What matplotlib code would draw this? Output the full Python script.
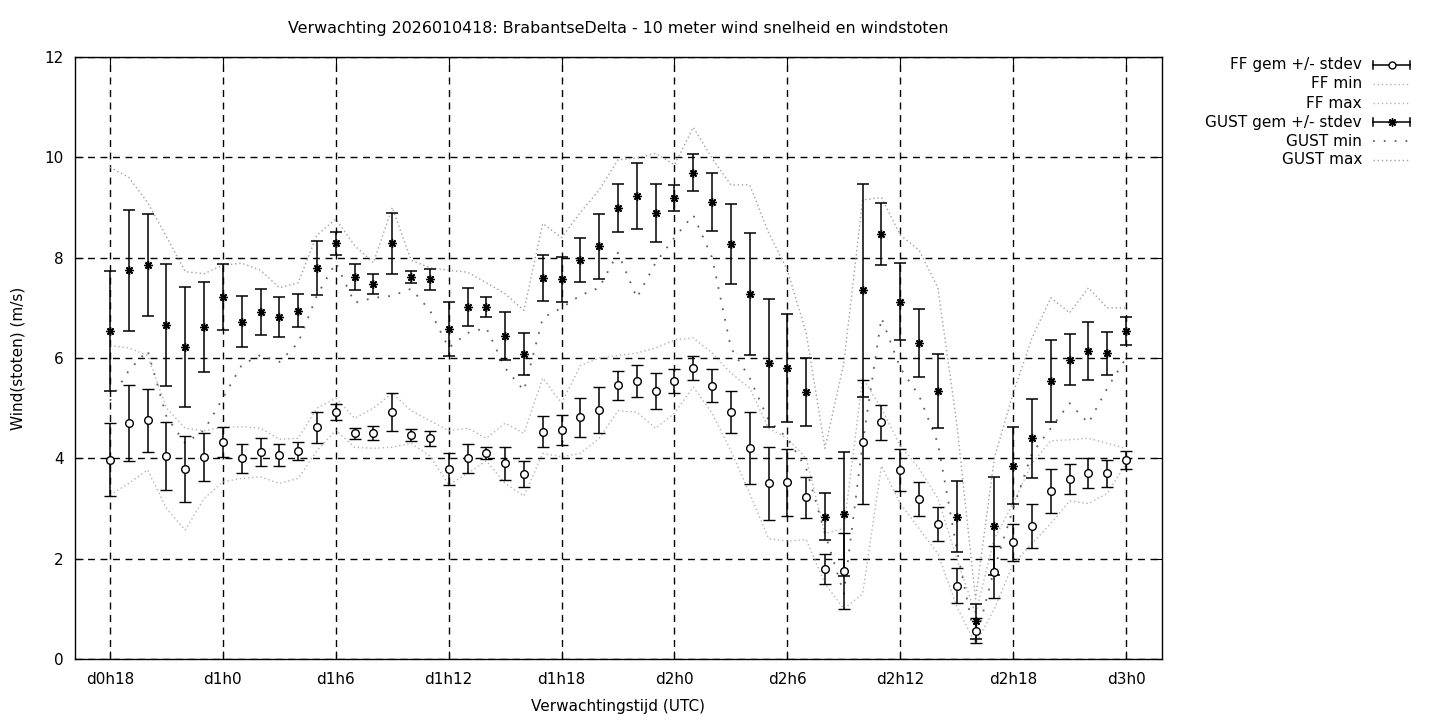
# windverwachting BrabantseDelta: gemiddelde +/- stdev, min en max
import numpy as np
import matplotlib.pyplot as plt
from matplotlib.lines import Line2D

# uren vanaf d0h0 (d0h18 .. d3h0)
uren = np.arange(18, 73)

ff_gem = [3.97, 4.70, 4.76, 4.05, 3.79, 4.03, 4.33, 4.00, 4.12, 4.06, 4.15, 4.62, 4.92,
          4.50, 4.50, 4.92, 4.46, 4.40, 3.79, 4.00, 4.10, 3.90, 3.68, 4.53, 4.56, 4.82, 4.96, 5.46,
          5.54, 5.34, 5.54, 5.80, 5.45, 4.93, 4.20, 3.50, 3.52, 3.22, 1.79, 1.75, 4.32, 4.72,
          3.77, 3.19, 2.69, 1.46, 0.56, 1.73, 2.33, 2.65, 3.35, 3.58, 3.70, 3.70, 3.97]
ff_std = [0.73, 0.76, 0.63, 0.68, 0.66, 0.48, 0.30, 0.29, 0.28, 0.22, 0.18, 0.31, 0.16,
          0.11, 0.14, 0.38, 0.12, 0.15, 0.32, 0.29, 0.12, 0.33, 0.26, 0.31, 0.30, 0.39, 0.46, 0.29,
          0.32, 0.36, 0.24, 0.24, 0.33, 0.42, 0.72, 0.73, 0.67, 0.41, 0.30, 0.76, 1.24, 0.35,
          0.42, 0.34, 0.34, 0.35, 0.25, 0.52, 0.37, 0.44, 0.44, 0.30, 0.30, 0.27, 0.18]
ff_min = [3.27, 3.50, 3.77, 3.00, 2.57, 3.20, 3.53, 3.60, 3.63, 3.50, 3.60, 4.15, 4.56,
          4.22, 4.20, 4.22, 4.30, 4.05, 3.47, 3.70, 3.95, 3.50, 3.25, 4.10, 4.03, 4.10, 4.40, 4.95,
          4.92, 4.60, 4.90, 5.42, 4.90, 4.15, 3.30, 2.40, 2.35, 2.38, 1.50, 1.00, 1.30, 3.85,
          3.10, 2.60, 2.10, 1.05, 0.30, 1.00, 1.90, 2.30, 2.70, 3.15, 3.10, 3.30, 3.90]
ff_max = [6.25, 6.20, 6.05, 5.00, 4.60, 4.55, 4.62, 4.63, 4.60, 4.38, 4.40, 5.00, 5.20,
          4.80, 5.00, 5.30, 4.95, 4.75, 4.55, 4.60, 4.40, 4.70, 4.50, 5.60, 5.10, 5.85, 6.00, 6.05,
          6.10, 6.20, 6.36, 6.40, 6.10, 5.70, 5.40, 4.60, 4.40, 4.00, 2.50, 2.60, 5.60, 5.00,
          4.25, 3.80, 3.20, 2.00, 0.90, 2.40, 3.10, 3.90, 4.35, 4.37, 4.40, 4.30, 4.20]

gust_gem = [6.54, 7.75, 7.85, 6.66, 6.22, 6.62, 7.22, 6.72, 6.92, 6.82, 6.94, 7.79, 8.29,
            7.61, 7.47, 8.29, 7.61, 7.57, 6.58, 7.02, 7.02, 6.44, 6.08, 7.59, 7.57, 7.95, 8.23, 8.99,
            9.23, 8.89, 9.19, 9.69, 9.11, 8.27, 7.27, 5.90, 5.80, 5.32, 2.84, 2.89, 7.35, 8.47,
            7.12, 6.30, 5.34, 2.84, 0.75, 2.65, 3.85, 4.40, 5.54, 5.97, 6.14, 6.09, 6.53]
gust_std = [1.20, 1.21, 1.02, 1.22, 1.20, 0.90, 0.66, 0.51, 0.46, 0.40, 0.33, 0.54, 0.23,
            0.26, 0.20, 0.61, 0.12, 0.21, 0.54, 0.38, 0.20, 0.47, 0.41, 0.46, 0.45, 0.44, 0.65, 0.47,
            0.65, 0.58, 0.26, 0.37, 0.58, 0.79, 1.22, 1.28, 1.08, 0.68, 0.47, 1.24, 2.12, 0.61,
            0.77, 0.68, 0.73, 0.71, 0.35, 0.97, 0.77, 0.79, 0.81, 0.50, 0.57, 0.43, 0.28]
gust_min = [5.15, 5.75, 6.15, 4.83, 4.30, 4.56, 5.20, 5.86, 6.06, 5.92, 6.30, 7.25, 7.90,
            7.10, 7.20, 7.24, 7.38, 6.95, 6.20, 6.50, 6.60, 5.80, 5.35, 6.80, 7.00, 7.25, 7.40, 8.10,
            7.20, 7.90, 8.40, 8.85, 8.00, 6.20, 5.60, 4.76, 4.40, 3.80, 2.50, 1.30, 4.30, 6.80,
            5.80, 5.25, 4.30, 2.20, 0.35, 1.80, 3.00, 4.10, 4.60, 5.10, 4.70, 5.40, 6.00]
gust_max = [9.80, 9.60, 9.10, 8.42, 7.72, 7.68, 7.85, 7.89, 7.75, 7.40, 7.50, 8.45, 8.77,
            8.24, 7.90, 9.00, 7.95, 7.80, 7.75, 7.71, 7.50, 7.28, 6.95, 8.68, 8.40, 8.90, 9.35, 9.95,
            9.99, 10.08, 9.85, 10.60, 9.98, 9.45, 9.45, 8.50, 7.75, 6.50, 4.20, 5.90, 9.15, 9.20,
            8.45, 8.15, 7.40, 4.70, 1.20, 4.00, 5.30, 6.40, 7.20, 6.90, 7.40, 7.00, 7.00]

tick_uren = np.arange(18, 73, 6)
tick_labels = ['d0h18', 'd1h0', 'd1h6', 'd1h12', 'd1h18', 'd2h0', 'd2h6', 'd2h12', 'd2h18', 'd3h0']

titel = 'Verwachting 2026010418: BrabantseDelta - 10 meter wind snelheid en windstoten'

W, H = 1440, 720
fig = plt.figure(figsize=(14.4, 7.2), dpi=100)
ax = fig.add_axes([75/W, (H-659)/H, (1162-75)/W, (659-57)/H])

ster = (8, 2, 0)
stijl_ff = dict(color='#b4b4b4', lw=1.0, ls=(0, (1, 2)))
stijl_gmin = dict(color='#606060', lw=1.3, ls=(0, (1, 5)))
stijl_gmax = dict(color='#a0a0a0', lw=1.0, ls=(0, (1, 2)))

ax.errorbar(uren, ff_gem, yerr=ff_std, fmt='o', ms=5.5, mfc='white', mec='black',
            mew=1.0, ecolor='black', elinewidth=1.1, capsize=4, capthick=1.1, zorder=4)
ax.plot(uren, ff_min, **stijl_ff)
ax.plot(uren, ff_max, **stijl_ff)
ax.errorbar(uren, gust_gem, yerr=gust_std, fmt='none', ecolor='black',
            elinewidth=1.1, capsize=4, capthick=1.1, zorder=4)
ax.plot(uren, gust_gem, ls='none', marker=ster, ms=6, mec='black', mew=1.0, zorder=5)
ax.plot(uren, gust_min, **stijl_gmin)
ax.plot(uren, gust_max, **stijl_gmax)

ax.set_xlim(16.14, 73.91)
ax.set_ylim(0, 12)
ax.set_xticks(tick_uren)
ax.set_xticklabels(tick_labels)
ax.set_yticks(np.arange(0, 13, 2))
ax.tick_params(direction='in', top=True, right=True, length=6, labelsize=11)
ax.tick_params(axis='x', pad=9)
ax.tick_params(axis='y', pad=8)
ax.grid(True, color='black', ls=(0, (5, 4)), lw=1.0)
ax.set_axisbelow(True)
for s in ax.spines.values():
    s.set_linewidth(1.0)

fig.text(618/W, 1-29/H, titel, ha='center', va='center', fontsize=11.4)
fig.text(618/W, 1-707/H, 'Verwachtingstijd (UTC)', ha='center', va='center', fontsize=11)
fig.text(18/W, 1-358/H, 'Wind(stoten) (m/s)', ha='center', va='center', rotation=90, fontsize=11)

# legenda rechtsboven, buiten de grafiek
leg_items = [('FF gem +/- stdev', 'ff_err'), ('FF min', 'ff'), ('FF max', 'ff'),
             ('GUST gem +/- stdev', 'g_err'), ('GUST min', 'gmin'), ('GUST max', 'gmax')]
x0, x1 = 1373/W, 1410/W
for i, (lab, soort) in enumerate(leg_items):
    y = 1 - (65 + 19*i)/H
    fig.text(1362/W, y, lab, ha='right', va='center', fontsize=11)
    if soort in ('ff_err', 'g_err'):
        fig.add_artist(Line2D([x0, x1], [y, y], transform=fig.transFigure, color='black', lw=1.1))
        for xc in (x0, x1):
            fig.add_artist(Line2D([xc, xc], [y - 4/H, y + 4/H], transform=fig.transFigure,
                                  color='black', lw=1.1))
        if soort == 'ff_err':
            fig.add_artist(Line2D([(x0+x1)/2], [y], transform=fig.transFigure, marker='o',
                                  ms=5, mfc='white', mec='black', ls='none'))
        else:
            fig.add_artist(Line2D([(x0+x1)/2], [y], transform=fig.transFigure, marker=ster,
                                  ms=6, mec='black', mew=1.0, ls='none'))
    else:
        st = {'ff': stijl_ff, 'gmin': stijl_gmin, 'gmax': stijl_gmax}[soort]
        fig.add_artist(Line2D([x0, x1], [y, y], transform=fig.transFigure, **st))

plt.savefig('out.png', dpi=100)
